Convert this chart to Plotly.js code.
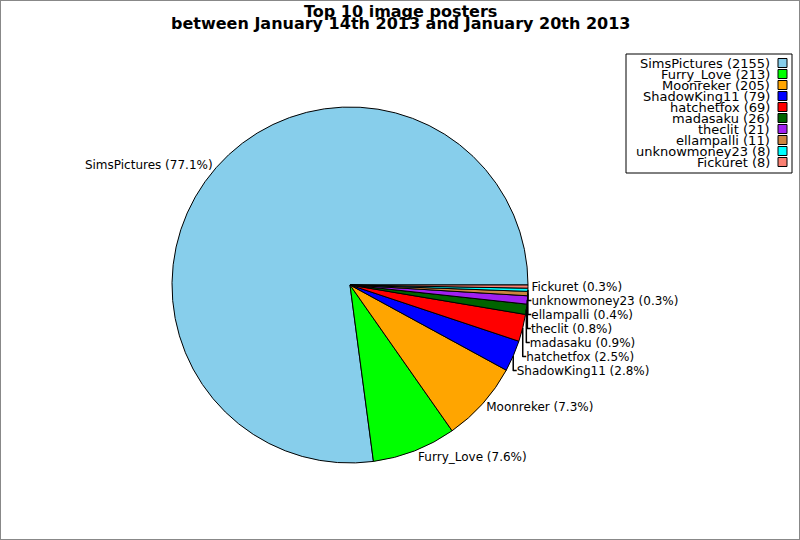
<!DOCTYPE html>
<html>
<head>
<meta charset="utf-8">
<script src="https://cdn.plot.ly/plotly-3.0.1.min.js"></script>
<style>
  body { margin: 0; background: #fff; }
  #chart { width: 800px; height: 540px; }
</style>
</head>
<body>
<div id="chart"></div>
<script>
// posters and number of images posted
const posters = ['SimsPictures', 'Furry_Love', 'Moonreker', 'ShadowKing11', 'hatchetfox',
                 'madasaku', 'theclit', 'ellampalli', 'unknowmoney23', 'Fickuret'];
const imageCounts = [2155, 213, 205, 79, 69, 26, 21, 11, 8, 8];
const sliceColors = ['#87ceeb', '#00ff00', '#ffa500', '#0000ff', '#ff0000',
                     '#006400', '#a020f0', '#cd853f', '#00ffff', '#fa8072'];
const titleLines = ['Top 10 image posters', 'between January 14th 2013 and January 20th 2013'];

const font = 'DejaVu Sans, Verdana, sans-serif';

// plotly puts the end of the first slice on the rotation angle when going
// counterclockwise, so turn it on by the first slice's share to start at 3 o'clock
const total = imageCounts.reduce((a, b) => a + b, 0);
const startTurn = 90 + 360 * (1 - imageCounts[0] / total);

var pie = {
    type: 'pie',
    labels: posters,
    values: imageCounts,
    sort: false,
    direction: 'counterclockwise',
    rotation: startTurn,
    marker: { colors: sliceColors, line: { color: '#000', width: 1 } },
    texttemplate: '%{label} (%{percent:.1%})',
    textposition: 'outside',
    textfont: { family: font, size: 12, color: '#000' },
    outsidetextfont: { family: font, size: 12, color: '#000' },
    hoverinfo: 'label+value+percent',
    domain: { x: [0.215, 0.66], y: [0.1426, 0.8019] },
    showlegend: false
};

// legend drawn by hand: text on the left, colour box on the right
var annotations = [];
var shapes = [];
var legTop = 63, legStep = 11;
posters.forEach((p, i) => {
    let yc = legTop + i * legStep;
    annotations.push({
        xref: 'paper', yref: 'paper',
        x: 772 / 800, y: 1 - yc / 540,
        xanchor: 'right', yanchor: 'middle',
        text: p + ' (' + imageCounts[i] + ')',
        showarrow: false,
        font: { family: font, size: 13, color: '#000' }
    });
    shapes.push({
        type: 'rect', xref: 'paper', yref: 'paper',
        x0: 778 / 800, x1: 787 / 800,
        y0: 1 - (yc - 4.5) / 540, y1: 1 - (yc + 4.5) / 540,
        fillcolor: sliceColors[i], line: { color: '#000', width: 1 }
    });
});

// title lines as separate annotations, packed tight like the original
titleLines.forEach((t, i) => {
    annotations.push({
        xref: 'paper', yref: 'paper',
        x: 0.5, y: 1 - (11 + i * 13) / 540,
        xanchor: 'center', yanchor: 'middle',
        text: '<b>' + t + '</b>',
        showarrow: false,
        font: { family: font, size: 16, color: '#000' }
    });
});

// legend frame
shapes.push({
    type: 'rect', xref: 'paper', yref: 'paper',
    x0: 626 / 800, x1: 792 / 800, y0: 1 - 54 / 540, y1: 1 - 173 / 540,
    line: { color: '#000', width: 1 }, layer: 'below'
});
// outer border of the picture
shapes.push({
    type: 'rect', xref: 'paper', yref: 'paper',
    x0: 0, x1: 1, y0: 0, y1: 1,
    line: { color: '#888', width: 2 }, layer: 'below'
});

var layout = {
    width: 800,
    height: 540,
    margin: { t: 0, b: 0, l: 0, r: 0 },
    paper_bgcolor: '#fff',
    annotations: annotations,
    shapes: shapes
};

Plotly.newPlot('chart', [pie], layout, { staticPlot: true });
</script>
</body>
</html>
